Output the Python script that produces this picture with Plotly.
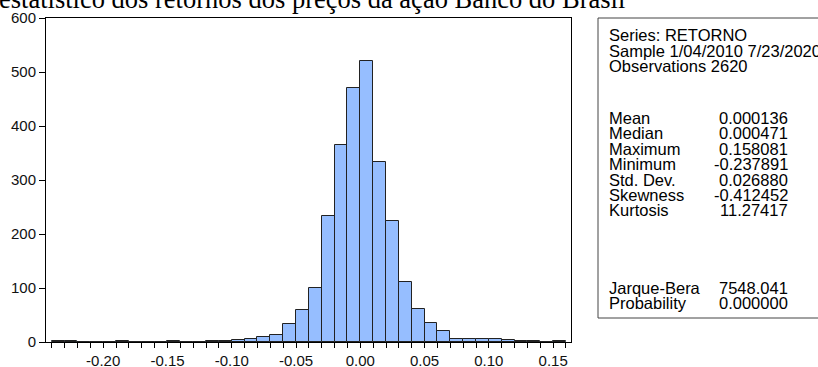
import plotly.graph_objects as go

# ---- data ----
bin_lower = [-0.24, -0.23, -0.22, -0.21, -0.20, -0.19, -0.18, -0.17, -0.16, -0.15,
             -0.14, -0.13, -0.12, -0.11, -0.10, -0.09, -0.08, -0.07, -0.06, -0.05,
             -0.04, -0.03, -0.02, -0.01, 0.00, 0.01, 0.02, 0.03, 0.04, 0.05,
             0.06, 0.07, 0.08, 0.09, 0.10, 0.11, 0.12, 0.13, 0.14, 0.15]
counts = [1, 1, 0, 0, 0, 1, 0, 0, 0, 1,
          0, 0, 1, 1, 3, 5, 9, 13, 33, 59,
          100, 234, 364, 470, 520, 334, 224, 112, 62, 35,
          21, 5, 6, 5, 5, 4, 2, 2, 0, 2]
bin_width = 0.01

x_tick_vals = [-0.20, -0.15, -0.10, -0.05, 0.00, 0.05, 0.10, 0.15]
x_tick_text = ["-0.20", "-0.15", "-0.10", "-0.05", "0.00", "0.05", "0.10", "0.15"]
y_tick_vals = [0, 100, 200, 300, 400, 500, 600]

stat_labels = ["Mean", "Median", "Maximum", "Minimum", "Std. Dev.", "Skewness", "Kurtosis"]
stat_values = ["0.000136", "0.000471", "0.158081", "-0.237891", "0.026880", "-0.412452", "11.27417"]
test_labels = ["Jarque-Bera", "Probability"]
test_values = ["7548.041", "0.000000"]
header_lines = ["Series: RETORNO", "Sample 1/04/2010 7/23/2020", "Observations 2620"]
title_text = "estatístico dos retornos dos preços da ação Banco do Brasil"

# ---- layout geometry (pixels) ----
W, H = 818, 367
L, R, T, B = 46, 571, 18, 342


def px2x(px):
    return (px - L) / (R - L)


def py2y(py):
    return (B - py) / (B - T)


centers = [b + bin_width / 2 for b in bin_lower]

fig = go.Figure()
fig.add_trace(go.Bar(
    x=centers, y=counts, width=bin_width,
    marker=dict(color="#96BEFF", line=dict(color="#222222", width=1)),
    showlegend=False, hoverinfo="x+y",
))

sans = "Arial, Liberation Sans, sans-serif"
fig.update_layout(
    width=W, height=H, autosize=False,
    margin=dict(l=L, r=W - R, t=T, b=H - B, pad=0, autoexpand=False),
    paper_bgcolor="white", plot_bgcolor="white",
    bargap=0,
    font=dict(family=sans, size=15, color="#111111"),
    xaxis=dict(
        range=[-0.2445, 0.1639], tickmode="array", tickvals=x_tick_vals, ticktext=x_tick_text,
        ticks="outside", ticklen=5, tickcolor="black", tickwidth=1,
        minor=dict(tick0=0, dtick=0.01, ticks="outside", ticklen=5, tickcolor="black", tickwidth=1),
        showline=True, linecolor="black", linewidth=1, mirror=True,
        showgrid=False, zeroline=False, automargin=False,
        tickfont=dict(family=sans, size=15, color="#111111"),
    ),
    yaxis=dict(
        range=[0, 600], tickmode="array", tickvals=y_tick_vals,
        ticks="outside", ticklen=6, tickcolor="black", tickwidth=1,
        showline=True, linecolor="black", linewidth=1, mirror=True,
        showgrid=False, zeroline=False, automargin=False,
        tickfont=dict(family=sans, size=15, color="#111111"),
    ),
)

# title (cropped at the left edge like the reference)
fig.add_annotation(
    text=title_text, xref="paper", yref="paper",
    x=px2x(-3), y=py2y(-1.5), xanchor="left", yanchor="middle",
    showarrow=False, font=dict(family="Times New Roman, Liberation Serif, serif", size=26.5, color="black"),
)

# stats box
fig.add_shape(type="rect", xref="paper", yref="paper",
              x0=px2x(598), x1=px2x(840), y0=py2y(318), y1=py2y(18),
              line=dict(color="#444444", width=1), fillcolor="white", layer="above")

stat_font = dict(family=sans, size=16.5, color="black")
lab_x = px2x(607)
val_x = px2x(790)
header_y = [35, 50.5, 66]
for txt, yy in zip(header_lines, header_y):
    fig.add_annotation(text=txt, xref="paper", yref="paper", x=lab_x, y=py2y(yy),
                       xanchor="left", yanchor="middle", showarrow=False, font=stat_font)
stat_y = [117.5, 133, 148.5, 164, 179.5, 195, 210]
for lab, val, yy in zip(stat_labels, stat_values, stat_y):
    fig.add_annotation(text=lab, xref="paper", yref="paper", x=lab_x, y=py2y(yy),
                       xanchor="left", yanchor="middle", showarrow=False, font=stat_font)
    fig.add_annotation(text=val, xref="paper", yref="paper", x=val_x, y=py2y(yy),
                       xanchor="right", yanchor="middle", showarrow=False, font=stat_font)
test_y = [287.5, 303]
for lab, val, yy in zip(test_labels, test_values, test_y):
    fig.add_annotation(text=lab, xref="paper", yref="paper", x=lab_x, y=py2y(yy),
                       xanchor="left", yanchor="middle", showarrow=False, font=stat_font)
    fig.add_annotation(text=val, xref="paper", yref="paper", x=val_x, y=py2y(yy),
                       xanchor="right", yanchor="middle", showarrow=False, font=stat_font)

fig.write_html(
    "out.html",
    config={"responsive": False, "displayModeBar": False},
    post_script="document.body.style.margin='0';document.body.style.padding='0';"
                "document.body.style.overflow='hidden';",
)
